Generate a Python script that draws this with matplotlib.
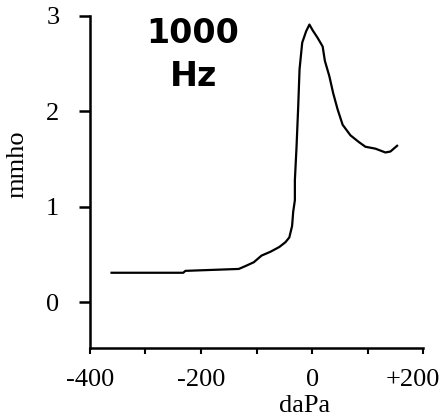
import matplotlib
matplotlib.use("Agg")
import matplotlib.pyplot as plt
from matplotlib.transforms import ScaledTranslation

# Tympanogram data (daPa vs mmho)
pressure = [-361, -300, -232, -228, -180, -132, -120, -105, -91, -75, -59, -48, -41, -36, -34,
            -31, -31, -28, -25, -22.6, -17.8, -10.7, -4.8, 1, 10, 19, 23, 31, 38, 46, 55, 69,
            84, 96, 114, 132, 141, 153]
admittance = [0.31, 0.31, 0.31, 0.33, 0.34, 0.35, 0.38, 0.42, 0.49, 0.53, 0.58, 0.63, 0.68, 0.80, 0.95,
              1.07, 1.28, 1.63, 2.05, 2.44, 2.72, 2.84, 2.91, 2.85, 2.77, 2.68, 2.53, 2.37, 2.19, 2.02, 1.86, 1.75,
              1.68, 1.63, 1.61, 1.57, 1.58, 1.64]

xticks_major = [-400, -200, 0, 200]
xtick_labels = ["-400", "-200", "0", "+200"]
xticks_minor = [-300, -100, 100]
yticks = [0, 1, 2, 3]
ytick_labels = ["0", "1", "2", "3"]

fig = plt.figure(figsize=(4.45, 4.2), dpi=100)
ax = fig.add_axes([0.202, 0.171, 0.749, 0.791])
ax.plot(pressure, admittance, color="black", lw=1.6)
ax.set_xlim(-400, 200)
ax.set_ylim(-0.48, 3)

for s in ["top", "right"]:
    ax.spines[s].set_visible(False)
for s in ["left", "bottom"]:
    ax.spines[s].set_linewidth(1.8)

serif = "Liberation Serif"
fs = 19
ax.set_xticks(xticks_major)
ax.set_xticklabels(xtick_labels, fontfamily=serif, fontsize=fs)
ax.set_xticks(xticks_minor, minor=True)
ax.set_yticks(yticks)
ax.set_yticklabels(ytick_labels, fontfamily=serif, fontsize=fs)
ax.tick_params(axis="x", which="both", direction="out", length=4, width=1.5, pad=11)
ax.tick_params(axis="y", direction="out", length=8, width=1.8, pad=14)

# shift the "+200" label left so it stays inside the figure, as in the reference
last = ax.get_xticklabels()[-1]
last.set_transform(last.get_transform() + ScaledTranslation(-10 / 100, 0, fig.dpi_scale_trans))

fig.text(0.685, 0.018, "daPa", fontfamily=serif, fontsize=fs, ha="center", va="baseline")
fig.text(0.04, 0.61, "mmho", fontfamily=serif, fontsize=fs, rotation=90, ha="center", va="center")
fig.text(0.434, 0.8976, "1000", fontfamily="DejaVu Sans", fontweight="bold", fontsize=24,
         ha="center", va="baseline")
fig.text(0.434, 0.795, "Hz", fontfamily="DejaVu Sans", fontweight="bold", fontsize=24,
         ha="center", va="baseline")

fig.savefig("out.png", dpi=100)
